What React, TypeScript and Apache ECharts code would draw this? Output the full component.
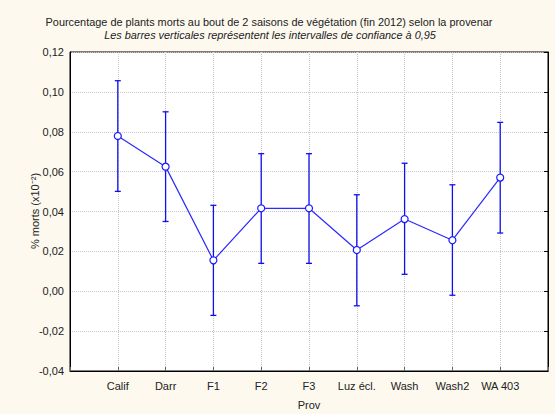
import React, { useEffect, useRef } from "react";
import * as echarts from "echarts";

const categories = ["Calif", "Darr", "F1", "F2", "F3", "Luz écl.", "Wash", "Wash2", "WA 403"];
const means = [0.0779, 0.0625, 0.0155, 0.0416, 0.0416, 0.0207, 0.0362, 0.0256, 0.057];
const lower = [0.0501, 0.035, -0.0121, 0.014, 0.014, -0.0073, 0.0085, -0.002, 0.0292];
const upper = [0.1056, 0.09, 0.0431, 0.069, 0.069, 0.0484, 0.0642, 0.0534, 0.0847];
const yMin = -0.04;
const yMax = 0.12;
const yStep = 0.02;

const titleLine1 = "Pourcentage de plants morts au bout de 2 saisons de végétation (fin 2012) selon la provenar";
const titleLine2 = "Les barres verticales représentent les intervalles de confiance à 0,95";
const yName = "% morts (x10⁻²)";
const xName = "Prov";

const FONT = "'Liberation Sans', Arial, sans-serif";

export default function App() {
  const ref = useRef<HTMLDivElement>(null);
  useEffect(() => {
    if (!ref.current) return;
    const chart = echarts.init(ref.current, null, { renderer: "svg" });
    const xCats = ["", ...categories, ""];
    const fmt = (v: number) => (Math.abs(v) < 1e-9 ? 0 : v).toFixed(2).replace(".", ",");
    const yAxisBase = {
      type: "value",
      min: yMin,
      max: yMax,
      interval: yStep,
    };
    const grid = { type: "dotted", color: "#c8c8c8", width: 1 };
    chart.setOption({
      animation: false,
      backgroundColor: "#fdf9ef",
      textStyle: { fontFamily: FONT },
      grid: {
        left: 70,
        right: 7,
        top: 52,
        bottom: 43,
        show: true,
        backgroundColor: "#ffffff",
        borderColor: "#000",
        borderWidth: 1,
      },
      graphic: [
        {
          type: "text",
          x: 269,
          y: 22,
          style: { text: titleLine1, font: `10.9px ${FONT}`, fill: "#222", align: "center", verticalAlign: "middle" },
        },
        {
          type: "text",
          x: 270,
          y: 35,
          style: { text: titleLine2, font: `italic 10.9px ${FONT}`, fill: "#222", align: "center", verticalAlign: "middle" },
        },
        {
          type: "text",
          x: 35,
          y: 211,
          rotation: Math.PI / 2,
          style: { text: yName, font: `11px ${FONT}`, fill: "#222", align: "center", verticalAlign: "middle" },
        },
        {
          type: "text",
          x: 309,
          y: 405,
          style: { text: xName, font: `11px ${FONT}`, fill: "#222", align: "center", verticalAlign: "middle" },
        },
      ],
      xAxis: {
        type: "category",
        data: xCats,
        boundaryGap: false,
        axisLine: { show: true, onZero: false, lineStyle: { color: "#000" } },
        axisTick: { show: true, inside: true, length: 4, lineStyle: { color: "#666" } },
        axisLabel: { color: "#222", fontSize: 11, fontFamily: FONT, margin: 9, interval: 0 },
        splitLine: { show: true, lineStyle: grid },
      },
      yAxis: [
        {
          ...yAxisBase,
          position: "left",
          axisLine: { show: true, lineStyle: { color: "#000" } },
          axisTick: { show: false },
          axisLabel: { color: "#222", fontSize: 11, fontFamily: FONT, margin: 6, formatter: fmt },
          splitLine: { show: true, lineStyle: grid },
        },
        {
          ...yAxisBase,
          position: "right",
          axisLine: { show: true, lineStyle: { color: "#000" } },
          axisTick: { show: true, inside: true, length: 4, lineStyle: { color: "#000" } },
          axisLabel: { show: false },
          splitLine: { show: false },
        },
      ],
      series: [
        {
          type: "custom",
          data: categories.map((_, i) => [i + 1, lower[i], upper[i]]),
          encode: { x: 0, y: [1, 2] },
          z: 2,
          renderItem: (params: any, api: any) => {
            const x = api.value(0);
            const lo = api.coord([x, api.value(1)]);
            const hi = api.coord([x, api.value(2)]);
            const cap = 3;
            const style = { stroke: "#1010ee", lineWidth: 1.3 };
            return {
              type: "group",
              children: [
                { type: "line", shape: { x1: lo[0], y1: lo[1], x2: hi[0], y2: hi[1] }, style },
                { type: "line", shape: { x1: hi[0] - cap, y1: hi[1], x2: hi[0] + cap, y2: hi[1] }, style },
                { type: "line", shape: { x1: lo[0] - cap, y1: lo[1], x2: lo[0] + cap, y2: lo[1] }, style },
              ],
            };
          },
        },
        {
          type: "line",
          data: categories.map((_, i) => [i + 1, means[i]]),
          symbol: "circle",
          symbolSize: 7,
          z: 3,
          lineStyle: { color: "#2a2aff", width: 1.2 },
          itemStyle: { color: "#ffffff", borderColor: "#1a1aff", borderWidth: 1.2 },
        },
      ],
    });
    return () => chart.dispose();
  }, []);
  return <div ref={ref} style={{ position: "fixed", left: 0, top: 0, width: 555, height: 414 }} />;
}
